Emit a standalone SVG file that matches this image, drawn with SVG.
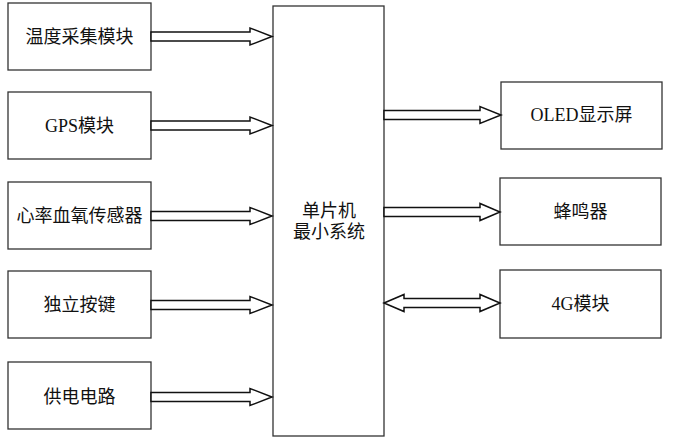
<svg xmlns="http://www.w3.org/2000/svg" width="674" height="441" viewBox="0 0 674 441">
<style>
.box{fill:#fff;stroke:#333;stroke-width:1.3}
.arr{fill:#fff;stroke:#111;stroke-width:1.5;stroke-linejoin:miter}
text{font-family:"Liberation Serif","Noto Sans CJK SC",serif;font-size:18px;fill:#111;text-anchor:middle;dominant-baseline:central}
</style>
<rect width="674" height="441" fill="#fff"/>
<g id="temp"><rect class="box" x="8" y="3" width="143" height="67"/><text x="79.5" y="37">温度采集模块</text></g>
<g id="gps"><rect class="box" x="8" y="92" width="143" height="67"/><text x="79.5" y="126">GPS模块</text></g>
<g id="hr"><rect class="box" x="8" y="182" width="143" height="67"/><text x="79.5" y="216">心率血氧传感器</text></g>
<g id="key"><rect class="box" x="8" y="271" width="143" height="67"/><text x="79.5" y="305">独立按键</text></g>
<g id="power"><rect class="box" x="8" y="362" width="143" height="67"/><text x="79.5" y="397">供电电路</text></g>
<g id="mcu"><rect class="box" x="273" y="6" width="111" height="430"/><text x="329" y="211">单片机</text><text x="329" y="232">最小系统</text></g>
<g id="oled"><rect class="box" x="501" y="82" width="161" height="67"/><text x="581.5" y="115">OLED显示屏</text></g>
<g id="buzzer"><rect class="box" x="500" y="178" width="161" height="67"/><text x="580.5" y="212">蜂鸣器</text></g>
<g id="g4"><rect class="box" x="500" y="270" width="161" height="68"/><text x="580.5" y="304">4G模块</text></g>
<g id="connectors">
<polygon class="arr" points="151,32 250,32 250,28 272,36.5 250,45 250,41 151,41"/>
<polygon class="arr" points="151,121 250,121 250,117 272,125.5 250,134 250,130 151,130"/>
<polygon class="arr" points="151,211.5 250,211.5 250,207.5 272,216 250,224.5 250,220.5 151,220.5"/>
<polygon class="arr" points="151,300.5 250,300.5 250,296.5 272,305 250,313.5 250,309.5 151,309.5"/>
<polygon class="arr" points="151,392.5 250,392.5 250,388.5 272,397 250,405.5 250,401.5 151,401.5"/>
<polygon class="arr" points="384,110.5 480,110.5 480,106.5 501,115 480,123.5 480,119.5 384,119.5"/>
<polygon class="arr" points="384,207.5 480,207.5 480,203.5 500,212 480,220.5 480,216.5 384,216.5"/>
<polygon class="arr" points="384,303 404,294.5 404,298.5 480,298.5 480,294.5 500,303 480,311.5 480,307.5 404,307.5 404,311.5"/>
</g>
</svg>
